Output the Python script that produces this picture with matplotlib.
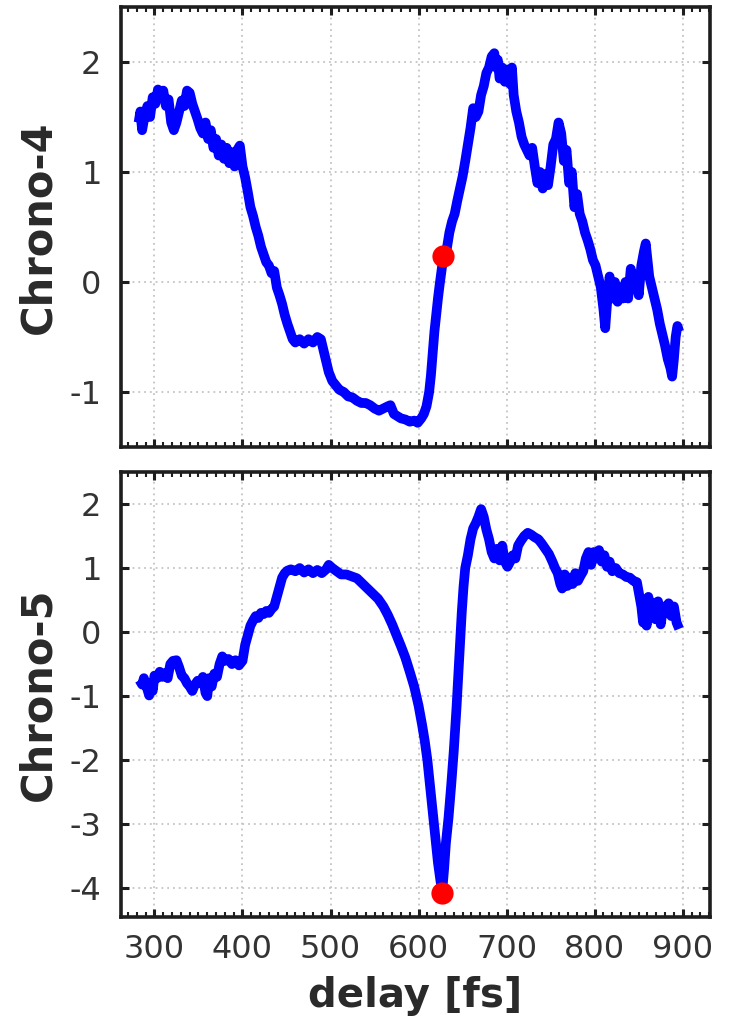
import matplotlib
matplotlib.use("Agg")
import matplotlib.pyplot as plt
from matplotlib.ticker import MultipleLocator

# ---------------- data ----------------
delay_4 = [282, 284, 286, 289, 292, 295, 298, 301, 304, 307, 310, 313, 316, 319, 322, 325,
           328, 331, 334, 337, 340, 343, 346, 349, 352, 355, 358, 361, 364, 367, 370, 373,
           376, 379, 382, 385, 388, 391, 394, 397, 400, 403, 406, 409, 412, 415, 418, 421,
           424, 427, 430, 433, 436, 439, 442, 445, 448, 451, 454, 457, 460, 465, 470, 475,
           480, 485, 489, 492, 495, 498, 502, 506, 510, 515, 520, 525, 530, 535, 540, 545,
           550, 555, 560, 565, 568, 572, 576, 580, 585, 590, 595, 599, 603, 606, 609, 612,
           614, 616, 618, 620, 622, 624, 626, 628, 632, 635, 638, 641, 644, 647, 650, 653,
           656, 659, 662, 665, 668, 671, 674, 677, 680, 683, 686, 688, 690, 692, 695, 698,
           701, 704, 706, 708, 711, 714, 717, 720, 723, 726, 729, 732, 735, 738, 741, 744,
           747, 750, 753, 756, 759, 762, 765, 768, 771, 774, 777, 780, 783, 786, 789, 792,
           795, 798, 801, 804, 807, 810, 812, 814, 817, 820, 823, 826, 829, 832, 835, 838,
           841, 844, 847, 850, 853, 856, 858, 860, 862, 865, 868, 871, 874, 877, 880, 883,
           886, 888, 890, 892, 894, 896]
chrono_4 = [1.45, 1.55, 1.38, 1.52, 1.60, 1.50, 1.68, 1.62, 1.75, 1.70, 1.74, 1.60, 1.66, 1.45, 1.38, 1.45,
            1.55, 1.65, 1.60, 1.74, 1.72, 1.62, 1.55, 1.48, 1.40, 1.35, 1.45, 1.30, 1.38, 1.22, 1.30, 1.15,
            1.25, 1.12, 1.22, 1.08, 1.18, 1.05, 1.20, 1.24, 1.05, 0.95, 0.82, 0.68, 0.60, 0.50, 0.42, 0.32,
            0.25, 0.18, 0.15, 0.08, 0.10, -0.05, -0.12, -0.20, -0.30, -0.38, -0.45, -0.52, -0.55, -0.52, -0.56, -0.52,
            -0.55, -0.50, -0.52, -0.62, -0.72, -0.82, -0.90, -0.94, -0.98, -1.00, -1.04, -1.05, -1.08, -1.10, -1.10, -1.12,
            -1.15, -1.17, -1.15, -1.13, -1.12, -1.20, -1.22, -1.24, -1.25, -1.27, -1.26, -1.28, -1.24, -1.20, -1.13, -1.00,
            -0.85, -0.65, -0.45, -0.30, -0.15, -0.02, 0.10, 0.22, 0.30, 0.45, 0.55, 0.62, 0.74, 0.85, 0.96, 1.10,
            1.25, 1.40, 1.58, 1.50, 1.55, 1.70, 1.78, 1.90, 1.95, 2.05, 2.08, 1.95, 2.02, 1.85, 1.95, 1.82,
            1.93, 1.80, 1.95, 1.70, 1.55, 1.45, 1.32, 1.25, 1.20, 1.15, 1.22, 1.05, 0.90, 1.00, 0.85, 0.98,
            0.88, 1.05, 1.25, 1.30, 1.45, 1.35, 1.10, 1.20, 0.90, 1.00, 0.68, 0.80, 0.62, 0.55, 0.45, 0.38,
            0.30, 0.20, 0.15, 0.05, -0.05, -0.25, -0.42, -0.20, 0.05, -0.15, 0.00, -0.18, -0.05, -0.15, 0.00, -0.15,
            0.12, -0.05, 0.05, -0.12, 0.15, 0.28, 0.35, 0.20, 0.05, -0.05, -0.15, -0.25, -0.38, -0.48, -0.58, -0.70,
            -0.78, -0.86, -0.70, -0.50, -0.40, -0.45]

delay_5 = [283, 286, 288, 291, 294, 296, 298, 300, 303, 306, 309, 312, 315, 318, 321, 325,
           328, 331, 334, 337, 340, 343, 346, 349, 352, 355, 358, 360, 362, 365, 368, 371,
           374, 377, 380, 384, 388, 392, 396, 400, 403, 406, 409, 412, 415, 418, 421, 424,
           427, 430, 433, 436, 439, 442, 445, 448, 451, 455, 460, 465, 470, 475, 480, 485,
           490, 495, 498, 502, 507, 512, 518, 524, 530, 536, 542, 548, 554, 560, 565, 570,
           575, 580, 585, 590, 595, 600, 604, 607, 610, 613, 616, 619, 622, 625, 627, 629,
           631, 634, 637, 640, 643, 645, 647, 649, 651, 653, 656, 659, 662, 665, 668, 671,
           674, 677, 680, 683, 686, 689, 692, 695, 698, 701, 704, 707, 710, 713, 716, 720,
           724, 728, 732, 736, 740, 744, 748, 752, 755, 758, 761, 763, 766, 769, 772, 775,
           778, 781, 784, 787, 790, 793, 796, 799, 802, 805, 808, 811, 814, 817, 820, 824,
           828, 832, 836, 840, 844, 848, 851, 853, 855, 857, 859, 861, 863, 866, 869, 872,
           875, 878, 881, 884, 887, 890, 893, 896]
chrono_5 = [-0.75, -0.82, -0.72, -0.85, -0.99, -0.80, -0.92, -0.68, -0.72, -0.62, -0.70, -0.64, -0.72, -0.50, -0.45, -0.44,
            -0.55, -0.68, -0.72, -0.80, -0.85, -0.92, -0.82, -0.76, -0.80, -0.70, -0.95, -1.00, -0.72, -0.85, -0.65, -0.70,
            -0.50, -0.38, -0.45, -0.42, -0.50, -0.44, -0.52, -0.45, -0.20, -0.05, 0.10, 0.18, 0.25, 0.22, 0.30, 0.28,
            0.33, 0.30, 0.36, 0.40, 0.55, 0.70, 0.85, 0.92, 0.96, 0.98, 0.95, 1.00, 0.93, 0.98, 0.92, 0.97,
            0.92, 0.98, 1.05, 1.00, 0.95, 0.90, 0.90, 0.87, 0.84, 0.76, 0.68, 0.60, 0.52, 0.40, 0.27, 0.12,
            -0.05, -0.22, -0.40, -0.62, -0.85, -1.15, -1.45, -1.70, -2.00, -2.40, -2.80, -3.20, -3.60, -3.90, -4.02, -3.70,
            -3.30, -2.90, -2.40, -1.85, -1.20, -0.70, -0.20, 0.30, 0.70, 1.00, 1.20, 1.45, 1.62, 1.70, 1.80, 1.92,
            1.80, 1.60, 1.45, 1.25, 1.15, 1.30, 1.12, 1.35, 1.10, 1.02, 1.10, 1.20, 1.15, 1.35, 1.42, 1.50,
            1.55, 1.52, 1.48, 1.45, 1.38, 1.30, 1.22, 1.10, 1.00, 0.92, 0.75, 0.68, 0.90, 0.72, 0.85, 0.75,
            0.92, 0.80, 0.88, 0.95, 1.15, 1.25, 1.05, 1.25, 1.15, 1.28, 1.10, 1.20, 1.02, 1.10, 0.95, 1.00,
            0.92, 0.90, 0.86, 0.85, 0.80, 0.78, 0.55, 0.40, 0.15, 0.40, 0.10, 0.55, 0.30, 0.45, 0.20, 0.48,
            0.12, 0.40, 0.30, 0.45, 0.25, 0.40, 0.15, 0.05]

marker_delay = [628, 627]
marker_value = [0.24, -4.07]

y_labels = ["Chrono-4", "Chrono-5"]
x_label = "delay [fs]"
x_ticks = [300, 400, 500, 600, 700, 800, 900]
y_ticks_4 = [-1, 0, 1, 2]
y_ticks_5 = [-4, -3, -2, -1, 0, 1, 2]

# ---------------- figure ----------------
plt.rcParams['font.family'] = ['DejaVu Sans']
plt.rcParams['axes.unicode_minus'] = False

W, H = 729, 1027
fig = plt.figure(figsize=(W / 100, H / 100), dpi=100)

def frac_box(l, t, r, b):
    return [l / W, 1 - b / H, (r - l) / W, (b - t) / H]

ax1 = fig.add_axes(frac_box(121, 7, 710, 447))
ax2 = fig.add_axes(frac_box(121, 472, 710, 917))

series = [(ax1, delay_4, chrono_4, 0, y_ticks_4, (-1.5, 2.5)),
          (ax2, delay_5, chrono_5, 1, y_ticks_5, (-4.45, 2.5))]

for ax, xd, yd, i, yt, yl in series:
    ax.plot(xd, yd, color='#0000ff', lw=7, solid_joinstyle='round',
            solid_capstyle='butt', zorder=3)
    ax.plot([marker_delay[i]], [marker_value[i]], 'o', color='#ff0000',
            markersize=16, markeredgewidth=0, zorder=4)
    ax.set_xlim(262, 931)
    ax.set_ylim(*yl)
    ax.set_xticks(x_ticks)
    ax.set_yticks(yt)
    ax.xaxis.set_minor_locator(MultipleLocator(10))
    ax.grid(True, which='major', color='#c4c4c4', linestyle=(0, (1, 2.2)), lw=1.3)
    ax.set_axisbelow(True)
    for sp in ax.spines.values():
        sp.set_linewidth(2.6)
        sp.set_color('#1e1e1e')
    ax.tick_params(axis='both', which='major', direction='in', length=6, width=2.2,
                   color='#1e1e1e', top=True, right=True, labelsize=23,
                   labelcolor='#333333')
    ax.tick_params(axis='y', which='major', pad=14)
    ax.tick_params(axis='x', which='major', pad=12)
    ax.tick_params(axis='x', which='minor', direction='in', length=3.5, width=1.5,
                   color='#1e1e1e', top=True, bottom=True)
    ax.tick_params(axis='y', which='minor', left=False, right=False)
    ax.set_ylabel(y_labels[i], fontsize=30, fontweight='bold', color='#2a2a2a')
    ax.yaxis.set_label_coords(-0.105, 0.5)

ax1.tick_params(axis='x', labelbottom=False)
ax2.set_xlabel(x_label, fontsize=29, fontweight='bold', color='#2a2a2a', labelpad=8)

fig.savefig("out.png", dpi=100)
